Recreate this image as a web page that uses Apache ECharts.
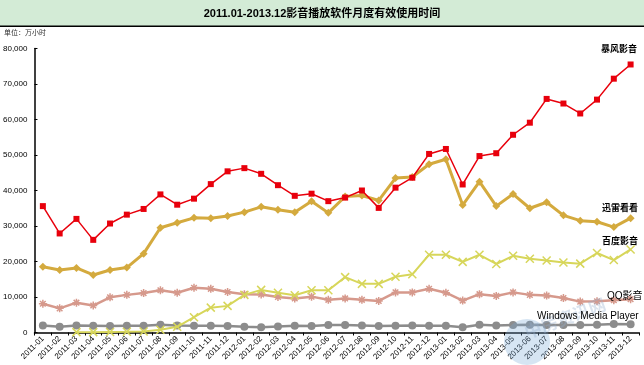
<!DOCTYPE html>
<html><head><meta charset="utf-8">
<script src="https://cdn.jsdelivr.net/npm/echarts@6/dist/echarts.min.js"></script>
<style>html,body{margin:0;padding:0;background:#fff}#c{width:644px;height:365px}</style>
</head><body><div id="c"></div>
<script>
const categories = ['2011-01','2011-02','2011-03','2011-04','2011-05','2011-06','2011-07','2011-08','2011-09','2011-10','2011-11','2011-12',
'2012-01','2012-02','2012-03','2012-04','2012-05','2012-06','2012-07','2012-08','2012-09','2012-10','2012-11','2012-12',
'2013-01','2013-02','2013-03','2013-04','2013-05','2013-06','2013-07','2013-08','2013-09','2013-10','2013-11','2013-12'];
const baofeng = [35600,27900,32000,26100,30700,33200,34800,38900,36000,37700,41800,45400,
46300,44700,41500,38500,39100,37000,38000,40000,35100,40800,43600,50300,
51700,41700,49700,50500,55700,59100,65800,64500,61700,65600,71500,75500];
const xunlei = [18500,17600,18200,16200,17600,18300,22200,29500,30900,32300,32200,32800,
33900,35400,34600,33900,37000,33700,38300,38600,37200,43500,43800,47400,
48800,35900,42500,35600,39000,35000,36700,33000,31500,31200,29700,32200];
const baidu = ['-','-',100,100,150,200,300,800,1600,4300,7000,7500,
10600,12000,11200,10500,11900,11900,15600,13700,13700,15700,16400,21900,
21900,19900,21900,19300,21600,20800,20300,19700,19400,22400,20400,23400];
const qq = [8100,6800,8400,7600,9900,10600,11100,11900,11200,12600,12300,11400,
10800,10700,10000,9600,10100,9200,9600,9200,8900,11300,11300,12300,
11200,9000,10800,10300,11300,10600,10400,9700,8700,8800,9100,9400];
const wmp = [2000,1600,2000,1900,1800,1900,1900,2200,2000,1900,1900,1800,
1600,1500,1700,1900,1800,2100,2100,2000,1800,1900,2000,1900,
1900,1500,2200,2000,2100,2200,2100,2100,2100,2200,2400,2300];
const yTicks = [0,10000,20000,30000,40000,50000,60000,70000,80000];

const chart = echarts.init(document.getElementById('c'));
const cjk = '"Liberation Sans","Noto Sans CJK SC",sans-serif';
const lbl = (t, x, y) => ({type:'text', left:x, top:y, z:20, style:{text:t, font:'bold 9px "Noto Sans CJK SC",serif', fill:'#000'}});
chart.setOption({
  animation:false,
  backgroundColor:'#fff',
  graphic:[
    {type:'rect', shape:{x:0,y:0,width:644,height:26}, style:{fill:'#d3ebd6'}, z:-1},
    {type:'rect', shape:{x:0,y:25.5,width:644,height:1.5}, style:{fill:'#000'}, z:1},
    {type:'text', x:322, y:14, style:{text:'2011.01-2013.12影音播放软件月度有效使用时间', font:'bold 11px '+cjk, fill:'#000', align:'center', verticalAlign:'middle'}},
    {type:'text', left:4, top:29, style:{text:'单位：万小时', font:'7px "Noto Sans CJK SC",sans-serif', fill:'#333'}},
    lbl('暴风影音', 601, 44),
    lbl('迅雷看看', 602, 203),
    lbl('百度影音', 602, 236),
    {type:'text', left:607, top:291, z:20, style:{text:'QQ影音', font:'10px "Liberation Sans","Noto Sans CJK SC",sans-serif', fill:'#000'}},
    {type:'text', left:537, top:311, z:20, style:{text:'Windows Media Player', font:'10px "Liberation Sans",Arial,sans-serif', fill:'#000'}},
    {type:'circle', shape:{cx:527,cy:342,r:23}, style:{fill:'rgba(120,170,215,0.3)'}, z:15},
    {type:'text', x:565, y:318, rotation:0.35, z:15, style:{text:'中房资讯网', font:'bold 17px "Noto Sans CJK SC",serif', fill:'rgba(150,175,205,0.35)', align:'center', verticalAlign:'middle'}}
  ],
  grid:{left:33, right:5, top:48.5, bottom:32.5, containLabel:false},
  xAxis:{type:'category', data:categories, boundaryGap:true,
    axisLine:{lineStyle:{color:'#000', width:1.5}},
    axisTick:{show:true, interval:0, length:3, lineStyle:{color:'#000'}},
    axisLabel:{interval:0, rotate:45, fontSize:8, color:'#000', fontFamily:'"Liberation Sans",Arial,sans-serif', margin:5},
    splitLine:{show:false}},
  yAxis:{type:'value', min:0, max:80000, interval:10000,
    axisLine:{show:true, lineStyle:{color:'#000', width:1.5}},
    axisTick:{show:true, inside:true, length:3, lineStyle:{color:'#000'}},
    axisLabel:{fontSize:8, color:'#000', fontFamily:'"Liberation Sans",Arial,sans-serif', margin:7,
      formatter:v=> yTicks.includes(v) ? (v===0?'0':v.toLocaleString('en-US')) : ''},
    splitLine:{show:false}},
  series:[
    {name:'Windows Media Player', type:'line', data:wmp, symbol:'circle', symbolSize:8, z:2,
      lineStyle:{color:'#8c8c8c', width:2.5}, itemStyle:{color:'#8c8c8c'}},
    {name:'QQ影音', type:'line', data:qq, z:3,
      symbol:'path://M0,5L10,5M5,0L5,10M1.5,1.5L8.5,8.5M8.5,1.5L1.5,8.5', symbolSize:8,
      lineStyle:{color:'#d6998c', width:2.5}, itemStyle:{color:'rgba(0,0,0,0)', borderColor:'#d6998c', borderWidth:1.5}},
    {name:'百度影音', type:'line', data:baidu, z:4,
      symbol:'path://M0,0L10,10M10,0L0,10', symbolSize:8,
      lineStyle:{color:'#d7d65a', width:2}, itemStyle:{color:'rgba(0,0,0,0)', borderColor:'#d7d65a', borderWidth:1.5}},
    {name:'迅雷看看', type:'line', data:xunlei, symbol:'diamond', symbolSize:8, z:5,
      lineStyle:{color:'#d4aa3e', width:3}, itemStyle:{color:'#d4aa3e'}},
    {name:'暴风影音', type:'line', data:baofeng, symbol:'rect', symbolSize:6, z:6,
      lineStyle:{color:'#e8000c', width:1.5}, itemStyle:{color:'#e8000c'}}
  ]
});
</script></body></html>
